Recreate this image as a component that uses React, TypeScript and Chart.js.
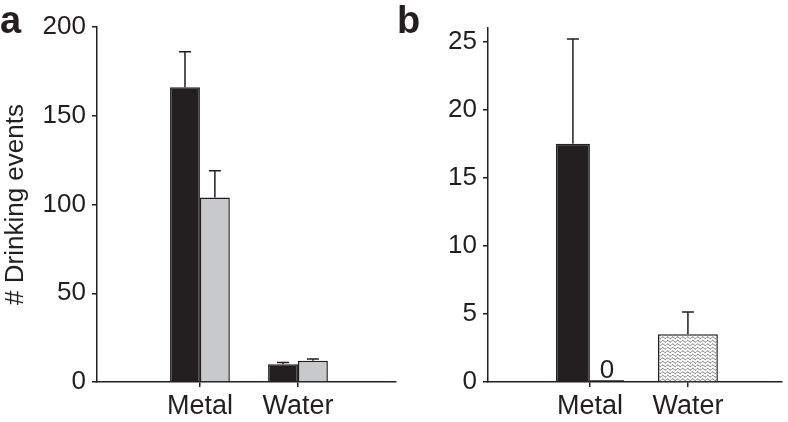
import React, { useEffect, useRef } from 'react';
import { Chart, registerables } from 'chart.js';

Chart.register(...registerables);

// ---------- data ----------
const categories = ['Metal', 'Water'];

// panel a
const aBlack = [166, 10];
const aBlackErr = [20, 1];
const aGray = [104, 12];
const aGrayErr = [15, 1];
const aTicks = [0, 50, 100, 150, 200];

// panel b
const bBlack: (number | null)[] = [17.5, null];
const bBlackErr: (number | null)[] = [7.7, null];
const bGray: (number | null)[] = [0, null];
const bPattern: (number | null)[] = [null, 3.5];
const bPatternErr: (number | null)[] = [null, 1.65];
const bTicks = [0, 5, 10, 15, 20, 25];

// ---------- styles ----------
const INK = '#231f20';
const GRAY = '#c8c9ca';
const FONT = "'Liberation Sans', Arial, Helvetica, sans-serif";

const toPoints = (arr: (number | null)[]) => arr.map((v, i) => ({ x: i, y: v }));

function makeWave(): CanvasPattern | string {
  const c = document.createElement('canvas');
  c.width = 5;
  c.height = 7;
  const g = c.getContext('2d');
  if (!g) return '#ddd';
  g.fillStyle = '#ffffff';
  g.fillRect(0, 0, 5, 7);
  g.strokeStyle = '#666666';
  g.lineWidth = 1;
  [1.75, 5.25].forEach((cy) => {
    g.beginPath();
    for (let x = -0.5; x <= 5.51; x += 0.25) {
      const y = cy + 0.9 * Math.sin((x / 5) * 2 * Math.PI);
      if (x === -0.5) g.moveTo(x, y);
      else g.lineTo(x, y);
    }
    g.stroke();
  });
  return g.createPattern(c, 'repeat') || '#ddd';
}

const errorBars = {
  id: 'errorBars',
  afterDatasetsDraw(chart: any) {
    const ctx = chart.ctx;
    const yScale = chart.scales.y;
    chart.data.datasets.forEach((ds: any, di: number) => {
      if (!ds.errors) return;
      const meta = chart.getDatasetMeta(di);
      meta.data.forEach((el: any, i: number) => {
        const v = ds.data[i].y;
        const e = ds.errors[i];
        if (v == null || e == null) return;
        const yTop = yScale.getPixelForValue(v + e);
        ctx.save();
        ctx.strokeStyle = INK;
        ctx.lineWidth = 1.5;
        ctx.beginPath();
        ctx.moveTo(el.x, el.y);
        ctx.lineTo(el.x, yTop);
        ctx.moveTo(el.x - 6, yTop);
        ctx.lineTo(el.x + 6, yTop);
        ctx.stroke();
        ctx.restore();
      });
    });
  },
};

const valueLabels = {
  id: 'valueLabels',
  afterDatasetsDraw(chart: any) {
    const ctx = chart.ctx;
    chart.data.datasets.forEach((ds: any, di: number) => {
      if (!ds.showValue) return;
      const meta = chart.getDatasetMeta(di);
      meta.data.forEach((el: any, i: number) => {
        const v = ds.data[i].y;
        if (v == null) return;
        ctx.save();
        ctx.strokeStyle = INK;
        ctx.lineWidth = 1.5;
        ctx.beginPath();
        ctx.moveTo(el.x - el.width / 2, el.y - 1);
        ctx.lineTo(el.x + el.width / 2, el.y - 1);
        ctx.stroke();
        ctx.fillStyle = INK;
        ctx.font = `26px ${FONT}`;
        ctx.textAlign = 'center';
        ctx.textBaseline = 'alphabetic';
        ctx.fillText(String(v), el.x, el.y - 4);
        ctx.restore();
      });
    });
  },
};

const panelLabel = {
  id: 'panelLabel',
  afterDraw(chart: any, _args: any, opts: any) {
    if (!opts || !opts.text) return;
    const ctx = chart.ctx;
    ctx.save();
    ctx.fillStyle = INK;
    ctx.font = `bold 38px ${FONT}`;
    ctx.textAlign = 'left';
    ctx.textBaseline = 'alphabetic';
    ctx.fillText(opts.text, opts.x, opts.y);
    ctx.restore();
  },
};

function xScale(min: number, max: number) {
  return {
    type: 'linear',
    min,
    max,
    offset: false,
    bounds: 'data',
    afterBuildTicks: (s: any) => {
      s.ticks = categories.map((_, i) => ({ value: i }));
    },
    afterFit: (s: any) => {
      s.height = 40;
    },
    grid: { display: true, offset: false, drawOnChartArea: false, drawTicks: true, tickLength: 5, color: INK, lineWidth: 1.5 },
    border: { display: true, color: INK, width: 1.5 },
    ticks: {
      callback: (v: any) => categories[v] ?? '',
      font: { family: FONT, size: 27 },
      color: INK,
      padding: 3,
      maxRotation: 0,
      autoSkip: false,
    },
  };
}

function yScale(min: number, max: number, ticks: number[], width: number, title?: string) {
  return {
    type: 'linear',
    min,
    max,
    afterBuildTicks: (s: any) => {
      s.ticks = ticks.map((v) => ({ value: v }));
    },
    afterFit: (s: any) => {
      s.width = width;
    },
    grid: { display: true, drawOnChartArea: false, drawTicks: true, tickLength: 5, color: INK, lineWidth: 1.5 },
    border: { display: true, color: INK, width: 1.5 },
    ticks: { font: { family: FONT, size: 26 }, color: INK, padding: 6 },
    title: title
      ? { display: true, text: title, font: { family: FONT, size: 26 }, color: INK, padding: 0 }
      : { display: false },
  };
}

function configA(): any {
  return {
    type: 'bar',
    data: {
      datasets: [
        {
          data: toPoints(aBlack),
          errors: aBlackErr,
          backgroundColor: INK,
          borderColor: INK,
          borderWidth: 1.5,
          categoryPercentage: 0.61,
          barPercentage: 1,
        },
        {
          data: toPoints(aGray),
          errors: aGrayErr,
          backgroundColor: GRAY,
          borderColor: INK,
          borderWidth: 1.5,
          categoryPercentage: 0.61,
          barPercentage: 1,
        },
      ],
    },
    options: {
      responsive: false,
      animation: false,
      events: [],
      layout: { padding: { top: 27, right: 4, bottom: 0, left: 0 } },
      scales: {
        x: xScale(-1.05, 2.0),
        y: yScale(0, 200, aTicks, 97, '# Drinking events'),
      },
      plugins: {
        legend: { display: false },
        tooltip: { enabled: false },
        panelLabel: { text: 'a', x: 0, y: 33 },
      },
    },
    plugins: [errorBars, valueLabels, panelLabel],
  };
}

function configB(): any {
  return {
    type: 'bar',
    data: {
      datasets: [
        {
          data: toPoints(bBlack),
          errors: bBlackErr,
          backgroundColor: INK,
          borderColor: INK,
          borderWidth: 1.5,
          categoryPercentage: 0.694,
          barPercentage: 1,
        },
        {
          data: toPoints(bGray),
          showValue: true,
          backgroundColor: GRAY,
          borderColor: INK,
          borderWidth: 1.5,
          categoryPercentage: 0.694,
          barPercentage: 1,
        },
        {
          data: toPoints(bPattern),
          errors: bPatternErr,
          backgroundColor: makeWave(),
          borderColor: INK,
          borderWidth: 1.5,
          categoryPercentage: 0.694,
          barPercentage: 0.88,
        },
      ],
    },
    options: {
      responsive: false,
      animation: false,
      events: [],
      skipNull: true,
      layout: { padding: { top: 28, right: 6, bottom: 0, left: 0 } },
      scales: {
        x: xScale(-1.04, 1.96),
        y: yScale(0, 26, bTicks, 94),
      },
      plugins: {
        legend: { display: false },
        tooltip: { enabled: false },
        panelLabel: { text: 'b', x: 3, y: 33 },
      },
    },
    plugins: [errorBars, valueLabels, panelLabel],
  };
}

function Panel({ make, left, width }: { make: () => any; left: number; width: number }) {
  const ref = useRef<HTMLCanvasElement | null>(null);
  useEffect(() => {
    if (!ref.current) return;
    const chart = new Chart(ref.current, make());
    return () => chart.destroy();
  }, []);
  return (
    <canvas
      ref={ref}
      width={width}
      height={422}
      style={{ position: 'absolute', left, top: 0, width, height: 422 }}
    />
  );
}

export default function App() {
  return (
    <div style={{ position: 'fixed', left: 0, top: 0, width: 788, height: 422, background: '#fff', overflow: 'hidden' }}>
      <Panel make={configA} left={0} width={400} />
      <Panel make={configB} left={394} width={394} />
    </div>
  );
}
